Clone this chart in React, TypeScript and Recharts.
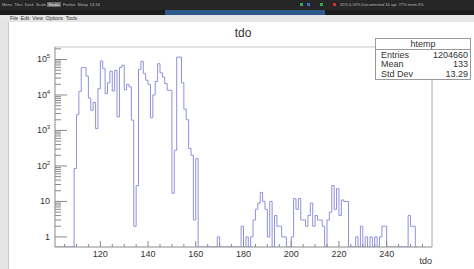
import React from 'react';
import { LineChart, Line, XAxis, YAxis } from 'recharts';

// tdo histogram (htemp), bin lower edges and bin contents
const tdoBins = [
  109, 110, 111, 112, 113, 114, 115, 116, 117, 118, 119, 120, 121, 122, 123, 124,
  125, 126, 127, 128, 129, 130, 131, 132, 133, 134, 135, 136, 137, 138, 139, 140,
  141, 142, 143, 144, 145, 146, 147, 148, 149, 150, 151, 152, 153, 154, 155, 156,
  157, 158, 159, 160, 161, 162, 163, 164, 165, 166, 167, 168, 169, 170, 171, 172,
  173, 174, 175, 176, 177, 178, 179, 180, 181, 182, 183, 184, 185, 186, 187, 188,
  189, 190, 191, 192, 193, 194, 195, 196, 197, 198, 199, 200, 201, 202, 203, 204,
  205, 206, 207, 208, 209, 210, 211, 212, 213, 214, 215, 216, 217, 218, 219, 220,
  221, 222, 223, 224, 225, 226, 227, 228, 229, 230, 231, 232, 233, 234, 235, 236,
  237, 238, 239, 240, 241, 242, 243, 244, 245, 246, 247, 248, 249, 250, 251, 252,
];
const binCounts = [
  85, 2800, 12700, 59000, 59000, 34000, 8200, 3700, 6200, 1130, 15000, 91000, 55000, 11000, 22000, 47000,
  13000, 49000, 2400, 60000, 69000, 14000, 20000, 17000, 1950, 2, 28, 52000, 89000, 40000, 26000, 20000,
  2300, 10000, 24000, 76000, 42000, 32000, 21000, 13600, 13600, 17, 277, 117000, 117000, 22000, 4000, 2000,
  310, 200, 3, 160, 0, 0, 0, 0, 0, 0, 0, 0, 1, 0, 0, 0,
  0, 0, 0, 0, 0, 0, 2, 0, 1, 0, 1, 3, 6, 9, 18, 10,
  6, 1, 10, 0, 4, 2, 2, 1, 1, 0, 0, 1, 12, 6, 12, 3,
  3, 2, 4, 9, 2, 4, 3, 3, 2, 0, 3, 5, 28, 6, 23, 4,
  11, 10, 10, 0, 0, 0, 1, 0, 2, 0, 1, 0, 1, 0, 1, 0,
  1, 2, 2, 0, 0, 0, 0, 0, 0, 0, 0, 0, 4, 2, 2, 0,
];

const xTicks = [105, 110, 115, 120, 125, 130, 135, 140, 145, 150, 155, 160, 165, 170, 175, 180,
  185, 190, 195, 200, 205, 210, 215, 220, 225, 230, 235, 240, 245, 250, 255];
const xLabels = [120, 140, 160, 180, 200, 220, 240];
const yDecades = [1, 10, 100, 1000, 10000, 100000];
const yLabels = ['1', '10', '10', '10', '10', '10'];
const yExps = ['', '', '2', '3', '4', '5'];

const statRows = [
  ['Entries', '1204660'],
  ['Mean', '133'],
  ['Std Dev', '13.29'],
];

const X_MIN = 101;
const X_MAX = 259;
const Y_MIN = 0.52;
const Y_MAX = 225000;

const HIST = '#9090dc';
const AXIS = '#8a8a8a';
const TXT = '#333';
const FONT = '"Liberation Sans", Arial, sans-serif';

const yTicks: number[] = [];
yDecades.forEach((d) => {
  for (let m = 1; m <= 9; m++) {
    const v = d * m;
    if (v <= Y_MAX) yTicks.push(v);
  }
});

// empty bins sit on the lower edge of the log frame
const data = [{ x: X_MIN, y: Y_MIN }];
tdoBins.forEach((b, i) => data.push({ x: b, y: Math.max(binCounts[i], Y_MIN) }));
data.push({ x: tdoBins[tdoBins.length - 1] + 1, y: Y_MIN });

const XTick = (props: any) => {
  const { x, y, payload } = props;
  const major = xLabels.includes(payload.value);
  return (
    <g>
      <line x1={x} x2={x} y1={y} y2={y - (major ? 6 : 3)} stroke={AXIS} />
      {major && (
        <text x={x} y={y + 10} textAnchor="middle" fontSize={9} fill={TXT} fontFamily={FONT}>
          {payload.value}
        </text>
      )}
    </g>
  );
};

const YTick = (props: any) => {
  const { x, y, payload } = props;
  const idx = yDecades.indexOf(payload.value);
  const major = idx >= 0;
  return (
    <g>
      <line x1={x} x2={x + (major ? 12 : 6)} y1={y} y2={y} stroke={AXIS} />
      {major && (
        <text x={yExps[idx] ? x - 8 : x - 5} y={y + 3} textAnchor="end" fontSize={9} fill={TXT} fontFamily={FONT}>
          {yLabels[idx]}
        </text>
      )}
      {major && yExps[idx] && (
        <text x={x - 5} y={y - 1} textAnchor="end" fontSize={6} fill={TXT} fontFamily={FONT}>
          {yExps[idx]}
        </text>
      )}
    </g>
  );
};

export default function App() {
  return (
    <div style={{ position: 'fixed', left: 0, top: 0, width: 474, height: 269, background: '#fff', overflow: 'hidden', fontFamily: FONT }}>
      {/* window chrome */}
      <div style={{ position: 'absolute', left: 0, top: 0, width: 474, height: 10, background: '#262626', color: '#b8b8b8', fontSize: 4, lineHeight: '9px', whiteSpace: 'nowrap' }}>
        <span style={{ marginLeft: 2 }}>Menu&nbsp; Tiles&nbsp; Dock&nbsp; Scale&nbsp;</span>
        <span style={{ background: '#6a6a6a', color: '#eee' }}>&nbsp;Studio&nbsp;</span>
        <span>&nbsp; Firefox&nbsp; Sleep&nbsp; 13:44</span>
        <span style={{ position: 'absolute', left: 300, top: 3, width: 3, height: 3, background: '#3aa84a' }} />
        <span style={{ position: 'absolute', left: 307, top: 3, width: 3, height: 3, background: '#3a6ed0' }} />
        <span style={{ position: 'absolute', left: 320, top: 3, width: 3, height: 3, background: '#3aa84a' }} />
        <span style={{ position: 'absolute', left: 333, top: 3, width: 3, height: 3, background: '#d83030' }} />
        <span style={{ position: 'absolute', left: 340, top: 0 }}>45% 0.59% Documented 16 apr. 77% mem 0%</span>
      </div>
      <div style={{ position: 'absolute', left: 0, top: 10, width: 474, height: 5, background: '#1c1c1c' }} />
      <div style={{ position: 'absolute', left: 165, top: 10, width: 160, height: 5, background: '#2d5a88' }} />
      <div style={{ position: 'absolute', left: 0, top: 15, width: 474, height: 7, background: '#e6e6e6', fontSize: 5, lineHeight: '7px', color: '#333', paddingLeft: 10 }}>
        File&nbsp; Edit&nbsp; View&nbsp; Options&nbsp; Tools
      </div>
      <div style={{ position: 'absolute', left: 0, top: 22, width: 8, height: 247, background: '#e4e4e4', borderRight: '1px solid #c8c8c8' }} />

      <div style={{ position: 'absolute', left: 0, top: 0 }}>
        <LineChart width={474} height={269} data={data} margin={{ top: 46, right: 0, bottom: 0, left: 0 }}>
          <XAxis
            dataKey="x"
            type="number"
            domain={[X_MIN, X_MAX]}
            ticks={xTicks}
            interval={0}
            height={22}
            tickSize={0}
            tickMargin={0}
            tickLine={false}
            axisLine={{ stroke: AXIS }}
            tick={<XTick />}
            allowDataOverflow
          />
          <XAxis xAxisId="top" orientation="top" dataKey="x" type="number" domain={[X_MIN, X_MAX]} height={1} tick={false} tickLine={false} axisLine={{ stroke: '#c4c4c4' }} />
          <YAxis
            scale="log"
            type="number"
            domain={[Y_MIN, Y_MAX]}
            ticks={yTicks}
            interval={0}
            width={55}
            tickSize={0}
            tickMargin={0}
            tickLine={false}
            axisLine={{ stroke: AXIS }}
            tick={<YTick />}
            allowDataOverflow
          />
          <YAxis yAxisId="right" orientation="right" width={42} tick={false} tickLine={false} axisLine={{ stroke: '#a8a8a8' }} />
          <Line
            type="stepAfter"
            dataKey="y"
            stroke={HIST}
            strokeWidth={1}
            dot={false}
            isAnimationActive={false}
          />
        </LineChart>
      </div>

      <div style={{ position: 'absolute', left: 0, top: 26, width: 486, textAlign: 'center', fontSize: 12, color: TXT }}>tdo</div>
      <div style={{ position: 'absolute', right: 42, top: 256, fontSize: 9, color: TXT }}>tdo</div>

      {/* stats box */}
      <div style={{ position: 'absolute', left: 375, top: 38, width: 94, height: 40, border: '1px solid #9a9a9a', background: '#fff', fontSize: 9, color: TXT, lineHeight: '9px' }}>
        <div style={{ textAlign: 'center', height: 9, paddingTop: 1, borderBottom: '1px solid #9a9a9a' }}>htemp</div>
        {statRows.map(([k, v]) => (
          <div key={k} style={{ display: 'flex', justifyContent: 'space-between', padding: '0 2px 0 5px', height: 9, marginTop: 0.5 }}>
            <span>{k}</span>
            <span>{v}</span>
          </div>
        ))}
      </div>
    </div>
  );
}
